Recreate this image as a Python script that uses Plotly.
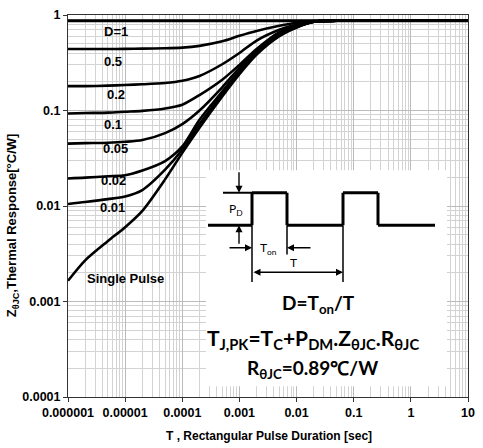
import plotly.graph_objects as go

# pulse duration (sec) and normalised thermal response per duty cycle
t = [1e-6, 2e-6, 5e-6, 1e-5, 2e-5, 5e-5, 1e-4, 2e-4, 5e-4, 1e-3,
     2e-3, 5e-3, 1e-2, 2e-2, 5e-2, 1e-1, 1, 10]
z_d1 = [0.87, 0.87, 0.87, 0.87, 0.87, 0.87, 0.87, 0.87, 0.87, 0.87,
        0.87, 0.87, 0.87, 0.87, 0.87, 0.87, 0.87, 0.87]
z_d05 = [0.44, 0.44, 0.44, 0.442, 0.445, 0.448, 0.455, 0.475, 0.53, 0.605,
         0.68, 0.77, 0.83, 0.862, 0.87, 0.87, 0.87, 0.87]
z_d02 = [0.18, 0.18, 0.182, 0.185, 0.188, 0.194, 0.205, 0.23, 0.305, 0.40,
         0.54, 0.70, 0.795, 0.855, 0.87, 0.87, 0.87, 0.87]
z_d01 = [0.093, 0.094, 0.095, 0.097, 0.099, 0.105, 0.115, 0.145, 0.21, 0.30,
         0.44, 0.66, 0.775, 0.852, 0.87, 0.87, 0.87, 0.87]
z_d005 = [0.045, 0.0455, 0.046, 0.047, 0.049, 0.058, 0.072, 0.10, 0.175, 0.28,
          0.425, 0.64, 0.758, 0.85, 0.87, 0.87, 0.87, 0.87]
z_d002 = [0.0194, 0.0198, 0.0205, 0.021, 0.0235, 0.0295, 0.042, 0.08, 0.158, 0.26,
          0.405, 0.62, 0.75, 0.85, 0.87, 0.87, 0.87, 0.87]
z_d001 = [0.0105, 0.011, 0.0118, 0.0126, 0.0147, 0.024, 0.039, 0.072, 0.15, 0.25,
          0.395, 0.61, 0.745, 0.85, 0.87, 0.87, 0.87, 0.87]
z_single = [0.00165, 0.0027, 0.0043, 0.006, 0.0089, 0.019, 0.036, 0.066, 0.14, 0.24,
            0.385, 0.60, 0.74, 0.85, 0.87, 0.87, 0.87, 0.87]

curves = [z_d1, z_d05, z_d02, z_d01, z_d005, z_d002, z_d001, z_single]
curve_names = ['D=1', '0.5', '0.2', '0.1', '0.05', '0.02', '0.01', 'Single Pulse']

x_ticks = [1e-6, 1e-5, 1e-4, 1e-3, 1e-2, 1e-1, 1, 10]
x_ticktext = ['0.000001', '0.00001', '0.0001', '0.001', '0.01', '0.1', '1', '10']
y_ticks = [1e-4, 1e-3, 1e-2, 1e-1, 1]
y_ticktext = ['0.0001', '0.001', '0.01', '0.1', '1']

W, H = 483, 448
L, R, T, B = 68, 15, 8, 51


# pixel position -> paper coords (for the inset drawing and labels)
def px(x):
    return (x - L) / (W - L - R)


def py(y):
    return (H - B - y) / (H - T - B)


fig = go.Figure()
for z, name in zip(curves, curve_names):
    fig.add_trace(go.Scatter(x=t, y=z, mode='lines', name=name,
                             line=dict(color='black', width=3 if name == 'D=1' else 2.6,
                                       shape='spline', smoothing=0.8)))

minor_x = [m * 10 ** e for e in range(-6, 1) for m in range(2, 10)]
minor_y = [m * 10 ** e for e in range(-4, 0) for m in range(2, 10)]

tick_font = dict(family='Liberation Sans', size=12.5, color='black', weight='bold')
fig.update_xaxes(type='log', range=[-6, 1], tickvals=x_ticks, ticktext=x_ticktext,
                 showline=True, linecolor='#333333', linewidth=1, mirror=True,
                 ticks='outside', ticklen=4, tickcolor='#333333',
                 showgrid=True, gridcolor='#bbbbbb', gridwidth=1,
                 minor=dict(tickvals=minor_x, showgrid=True, gridcolor='#d3d3d3', gridwidth=1, ticks=''),
                 tickfont=tick_font, zeroline=False)
fig.update_yaxes(type='log', range=[-4, 0], tickvals=y_ticks, ticktext=y_ticktext,
                 showline=True, linecolor='#333333', linewidth=1, mirror=True,
                 ticks='outside', ticklen=4, tickcolor='#333333',
                 showgrid=True, gridcolor='#bbbbbb', gridwidth=1,
                 minor=dict(tickvals=minor_y, showgrid=True, gridcolor='#d3d3d3', gridwidth=1, ticks=''),
                 tickfont=tick_font, zeroline=False)

shapes = []
# white inset panel
shapes.append(dict(type='rect', xref='paper', yref='paper', x0=px(206), x1=px(447), y0=py(386), y1=py(166),
                   fillcolor='white', line=dict(width=0), layer='above'))


def seg(x0, y0, x1, y1, w):
    shapes.append(dict(type='line', xref='paper', yref='paper', x0=px(x0), y0=py(y0), x1=px(x1), y1=py(y1),
                       line=dict(color='black', width=w), layer='above'))


# pulse train
wave = [(208, 222), (252, 222), (252, 189), (287, 189), (287, 222), (343, 222),
        (343, 189), (378, 189), (378, 222), (435, 222)]
for (a, b), (c, d) in zip(wave[:-1], wave[1:]):
    seg(a, b, c, d, 3)
# reference and dimension lines
seg(223, 189, 252, 189, 2)
seg(252, 222, 252, 280, 1.5)
seg(287, 222, 287, 252, 1.5)
seg(343, 222, 343, 280, 1.5)

annotations = []


def arrow(xh, yh, ax, ay, side='end'):
    annotations.append(dict(xref='paper', yref='paper', x=px(xh), y=py(yh), ax=ax, ay=ay, text='',
                            showarrow=True, arrowhead=2, arrowsize=1, arrowwidth=1.4,
                            arrowcolor='black', arrowside=side))


arrow(239, 189, 0, -22)
arrow(239, 222, 0, 20)
arrow(252, 245, -24, 0)
arrow(287, 245, 25, 0)
arrow(343, 270, -91, 0, 'end+start')


def label(x, y, text, size, family='Liberation Sans', bold=True, angle=0):
    annotations.append(dict(xref='paper', yref='paper', x=px(x), y=py(y), text=text, showarrow=False,
                            xanchor='center', yanchor='middle', textangle=angle,
                            font=dict(family=family, size=size, color='black',
                                      weight='bold' if bold else 'normal')))


# curve labels
label(116, 25, 'D=1', 13)
label(113, 55, '0.5', 13)
label(116, 89, '0.2', 13)
label(113, 120, '0.1', 13)
label(115, 144, '0.05', 13)
label(113, 177, '0.02', 13)
label(112, 204, '0.01', 13)
label(125, 276, 'Single Pulse', 13)

# inset texts
label(236, 206, 'P<sub>D</sub>', 12, 'Lato', False)
label(268, 246, 'T<sub>on</sub>', 12, 'Lato', False)
label(293, 260, 'T', 12, 'Lato', False)
label(318, 302, 'D=T<sub>on</sub>/T', 19, 'Lato')
label(313, 338, 'T<sub>J,PK</sub>=T<sub>C</sub>+P<sub>DM</sub>.Z<sub>θJC</sub>.R<sub>θJC</sub>', 21, 'Lato')
label(312, 368, 'R<sub>θJC</sub>=0.89℃/W', 19, 'Lato')

# axis titles
label(269, 437, 'T , Rectangular Pulse Duration [sec]', 12)
label(12, 222, 'Z<sub>θJC</sub>,Thermal Response[°C/W]', 13, angle=-90)

fig.update_layout(width=W, height=H, margin=dict(l=L, r=R, t=T, b=B),
                  paper_bgcolor='white', plot_bgcolor='white', showlegend=False,
                  shapes=shapes, annotations=annotations)

# drop the page's default body margin so the figure sits at the window's corner
fig.write_html("out.html", config={'displayModeBar': False},
               post_script="document.body.style.margin='0';")
